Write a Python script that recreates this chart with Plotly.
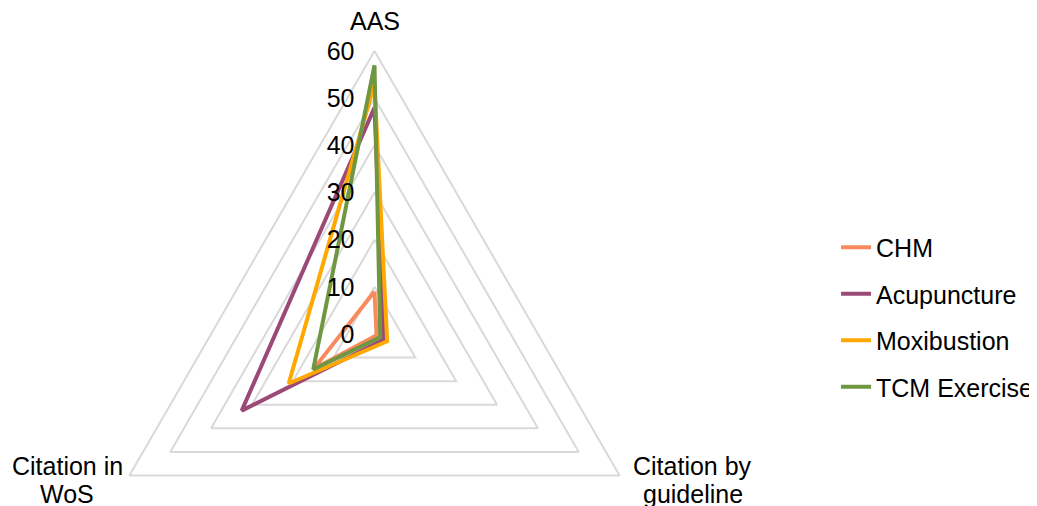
import numpy as np
import plotly.graph_objects as go

categories = ["AAS", "Citation by\nguideline", "Citation in\nWoS"]
series_names = ["CHM", "Acupuncture", "Moxibustion", "TCM Exercise"]
chm = [9, 0.5, 15]
acupuncture = [48, 2.3, 32.5]
moxibustion = [53, 3.1, 21]
tcm_exercise = [57, 1.4, 15]
radial_ticks = [0, 10, 20, 30, 40, 50, 60]
colors = ["#F98A5E", "#9B4A78", "#FFA800", "#6F9742"]

FONT = "Liberation Sans, Arial, sans-serif"
FS = 25
RMAX = radial_ticks[-1]

n = len(categories)
# spoke directions: first category at top, going clockwise
ang = np.deg2rad(90 - np.arange(n) * 360.0 / n)


def to_xy(vals):
    r = np.asarray(vals, dtype=float)
    x = r * np.cos(ang)
    y = r * np.sin(ang)
    return np.append(x, x[0]), np.append(y, y[0])


fig = go.Figure()

# polygon gridlines (one triangle per radial tick)
for t in radial_ticks[1:]:
    gx, gy = to_xy([t] * n)
    fig.add_trace(go.Scatter(x=gx, y=gy, mode="lines",
                             line=dict(color="#D9D9D9", width=2),
                             hoverinfo="skip", showlegend=False))

for name, vals, col in zip(series_names, [chm, acupuncture, moxibustion, tcm_exercise], colors):
    sx, sy = to_xy(vals)
    fig.add_trace(go.Scatter(x=sx, y=sy, mode="lines", name=name,
                             line=dict(color=col, width=4),
                             legendgroup=name))

# category labels at the outer vertices
vx, vy = to_xy([RMAX] * n)
label_style = [
    dict(xshift=0, yshifts=[14]),
    dict(xshift=73, yshifts=[9, -19]),
    dict(xshift=-62, yshifts=[9, -19]),
]
for i, cat in enumerate(categories):
    st = label_style[i]
    for line, ys in zip(cat.split("\n"), st["yshifts"]):
        fig.add_annotation(x=vx[i], y=vy[i], xref="x", yref="y", text=line,
                           showarrow=False, xanchor="center",
                           yanchor="bottom" if i == 0 else "middle",
                           xshift=st["xshift"], yshift=ys,
                           font=dict(family=FONT, size=FS, color="#000000"))

xr = [-77.71, 142.17]
yr = [-38.17, 69.13]
fig.update_layout(
    width=1037, height=506,
    margin=dict(l=0, r=0, t=0, b=0, autoexpand=False),
    paper_bgcolor="white", plot_bgcolor="white",
    font=dict(family=FONT, size=FS, color="#000000"),
    xaxis=dict(range=xr, visible=False, fixedrange=True),
    yaxis=dict(range=yr, tickvals=radial_ticks, ticks="", showgrid=False,
               zeroline=False, showline=False, anchor="free",
               position=(0 - xr[0]) / (xr[1] - xr[0]),
               ticklabelstandoff=20, fixedrange=True,
               tickfont=dict(family=FONT, size=FS, color="#000000")),
    legend=dict(x=0.7985, y=0.572, xanchor="left", yanchor="top",
                traceorder="grouped", tracegroupgap=11,
                font=dict(family=FONT, size=FS, color="#000000")),
    showlegend=True,
)

fig.write_html("out.html")
